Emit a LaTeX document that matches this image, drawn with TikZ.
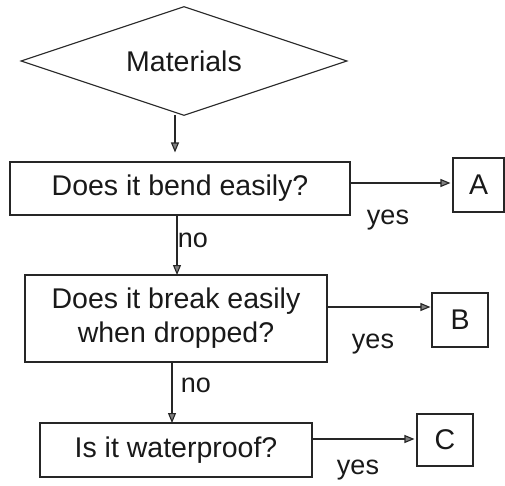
\documentclass[tikz,border=0pt]{standalone}
\usepackage{fontspec}
\setmainfont{Liberation Sans}
\usetikzlibrary{shapes.geometric,arrows.meta}
\begin{document}
\begin{tikzpicture}[x=1pt,y=-1pt,
  line width=1.1pt, draw=black!85,
  txt/.style={font=\fontsize{28.5}{34}\selectfont, text=black!90},
  qbox/.style={draw, rectangle, inner sep=0pt, txt, align=center},
  abox/.style={draw, rectangle, inner sep=0pt, txt},
  arr/.style={-{Triangle[length=10pt,width=8pt,fill=black!50]}},
  lbl/.style={font=\fontsize{27}{32}\selectfont, text=black!90, inner sep=0pt}]
\useasboundingbox (0,0) rectangle (505,485);
\node[draw, diamond, aspect=3, minimum width=326pt, minimum height=109pt, inner sep=0pt, txt] (dia) at (184,61) {Materials};
\node[qbox, minimum width=340pt, minimum height=53pt] (b1) at (180,188.5) {Does it bend easily?};
\node[abox, minimum width=51pt, minimum height=54pt] (A) at (478.5,185) {A};
\node[qbox, minimum width=302pt, minimum height=87pt] (b2) at (176,318.5) {Does it break easily\\when dropped?};
\node[abox, minimum width=56pt, minimum height=54pt] (B) at (460,320) {B};
\node[qbox, minimum width=272pt, minimum height=54pt] (b3) at (176,450) {Is it waterproof?};
\node[abox, minimum width=56pt, minimum height=52pt] (C) at (445,440) {C};
\coordinate (d1) at (175,115);
\coordinate (e2) at (350,183);
\coordinate (e3) at (327,307);
\coordinate (e4) at (312,439);
\draw[arr, shorten >=9pt] (d1) -- (d1 |- b1.north);
\draw[arr] (177,215) -- (177,275);
\draw[arr] (172,362) -- (172,423);
\draw[arr, shorten >=2pt] (e2) -- (e2 -| A.west);
\draw[arr, shorten >=1pt] (e3) -- (e3 -| B.west);
\draw[arr, shorten >=2pt] (e4) -- (e4 -| C.west);
\node[lbl] (y1) at (388,220) {yes};
\node[lbl] (y2) at (373,344) {yes};
\node[lbl] (y3) at (358,470) {yes};
\node[lbl] (n1) at (193,240) {no};
\node[lbl] (n2) at (196,385) {no};
\end{tikzpicture}
\end{document}
